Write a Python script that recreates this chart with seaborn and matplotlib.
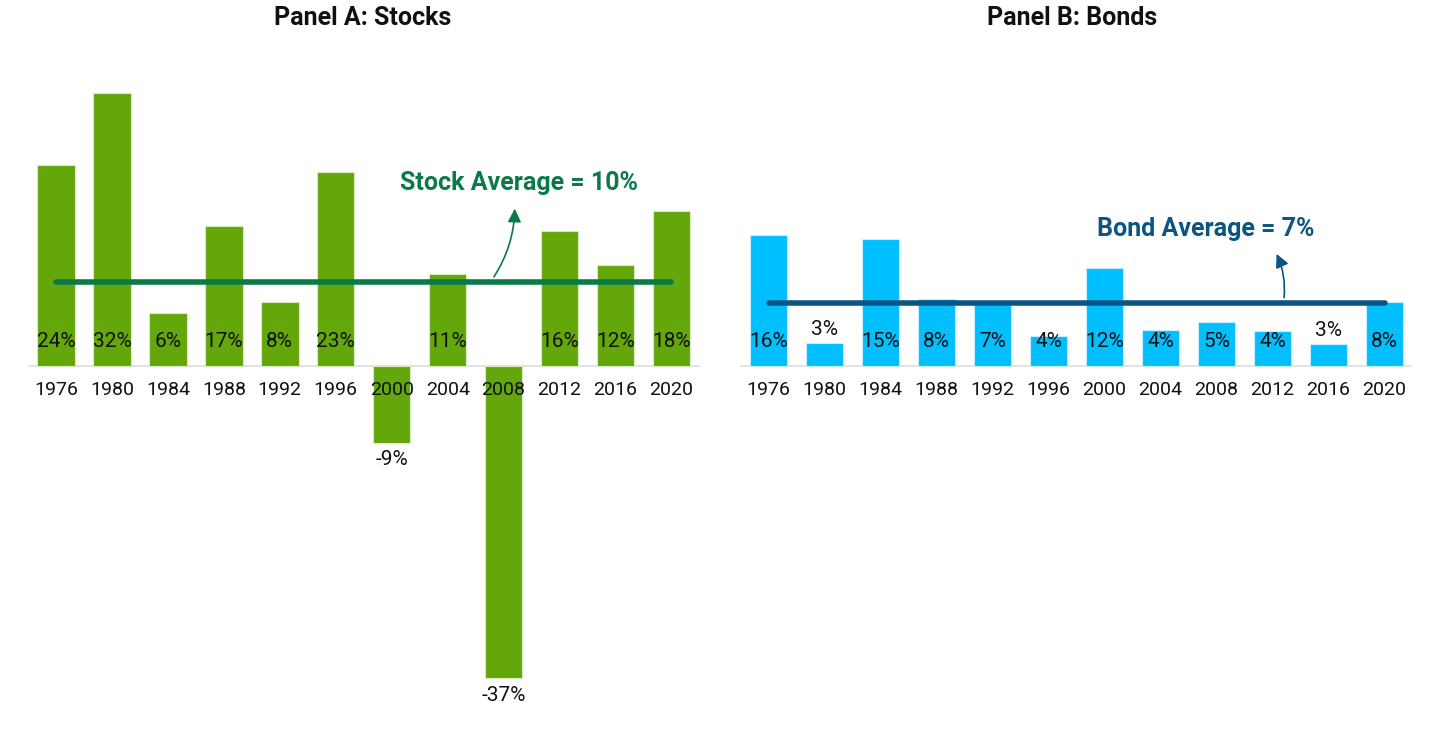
import matplotlib
matplotlib.use("Agg")
import matplotlib.pyplot as plt
import seaborn as sns
import pandas as pd
import numpy as np

years = ["1976", "1980", "1984", "1988", "1992", "1996", "2000", "2004", "2008", "2012", "2016", "2020"]
stock_returns = [23.8, 32.4, 6.3, 16.6, 7.6, 23.0, -9.1, 10.9, -37.0, 16.0, 12.0, 18.4]
bond_returns = [15.6, 2.7, 15.1, 7.9, 7.4, 3.6, 11.6, 4.3, 5.2, 4.2, 2.6, 7.6]
stock_avg = 10.0
bond_avg = 7.5
stock_title = "Panel A: Stocks"
bond_title = "Panel B: Bonds"
stock_avg_label = "Stock Average = 10%"
bond_avg_label = "Bond Average = 7%"

sns.set_theme(style="white")
plt.rcParams['font.family'] = ['Roboto', 'DejaVu Sans']

fig = plt.figure(figsize=(14.4, 7.29), dpi=100)
W, H = 1440, 729

def ax_rect(x0, x1, y0, y1):
    return [x0 / W, 1 - y1 / H, (x1 - x0) / W, (y1 - y0) / H]

fam = ['Roboto', 'DejaVu Sans']
YLIM = (-39.6, 36.3)

def panel(rect, values, color, edge, avg, avg_color, label_xy, arrow_from, xlim):
    ax = fig.add_axes(rect)
    df = pd.DataFrame({"year": years, "ret": values})
    sns.barplot(data=df, x="year", y="ret", color=color, width=0.67, ax=ax,
                saturation=1, edgecolor=edge, linewidth=0.8)
    ax.set_ylim(*YLIM)
    ax.set_xlim(*xlim)
    ax.set_axisbelow(False)
    ax.axhline(0, color="#e3e3e3", lw=1.5, zorder=0)
    for s in ax.spines.values():
        s.set_visible(False)
    ax.spines['bottom'].set_position(('data', 0))
    ax.set_yticks([])
    ax.set_xlabel("")
    ax.set_ylabel("")
    ax.tick_params(axis="x", length=0, pad=11)
    ax.set_xticks(range(len(years)))
    ax.set_xticklabels(years, fontsize=14, family=fam, color="#111111")
    for i, v in enumerate(values):
        txt = f"{round(v)}%"
        if v < 0:
            ax.text(i, v - 0.9, txt, ha="center", va="top", fontsize=15, family=fam, color="#111111")
        elif v < 3.0:
            ax.text(i, v + 0.5, txt, ha="center", va="bottom", fontsize=15, family=fam, color="#111111")
        else:
            ax.text(i, 2.9, txt, ha="center", va="center", fontsize=15, family=fam, color="#111111")
    ax.plot([0, len(years) - 1], [avg, avg], color=avg_color, lw=4, solid_capstyle="round", zorder=5)
    ax.annotate("", xy=label_xy, xytext=arrow_from,
                arrowprops=dict(arrowstyle="-|>", color=avg_color, lw=1.2,
                                connectionstyle="arc3,rad=0.15", mutation_scale=20))
    return ax

# Left panel
axL = panel(ax_rect(28, 700, 60, 700), stock_returns, "#63A70A", "#d8ecc0", stock_avg, "#0A7A4A",
            (8.2, 19.0), (7.8, 10.3), (-0.5, 11.51))
fig.text(363 / W, 1 - 18 / H, stock_title, ha="center", va="center", fontsize=18,
         fontweight="bold", family=fam, color="#111111")
fig.text(519 / W, 1 - 183 / H, stock_avg_label, ha="center", va="center", fontsize=18,
         fontweight="bold", family=fam, color="#0A7A4A")

# Right panel
axR = panel(ax_rect(740, 1412, 60, 700), bond_returns, "#00BFFF", "#c8efff", bond_avg, "#0B5584",
            (9.05, 13.6), (9.2, 7.8), (-0.51, 11.49))
fig.text(1072 / W, 1 - 18 / H, bond_title, ha="center", va="center", fontsize=18,
         fontweight="bold", family=fam, color="#111111")
fig.text(1206 / W, 1 - 229 / H, bond_avg_label, ha="center", va="center", fontsize=18,
         fontweight="bold", family=fam, color="#0B5584")

fig.savefig("out.png", dpi=100, facecolor="white")
